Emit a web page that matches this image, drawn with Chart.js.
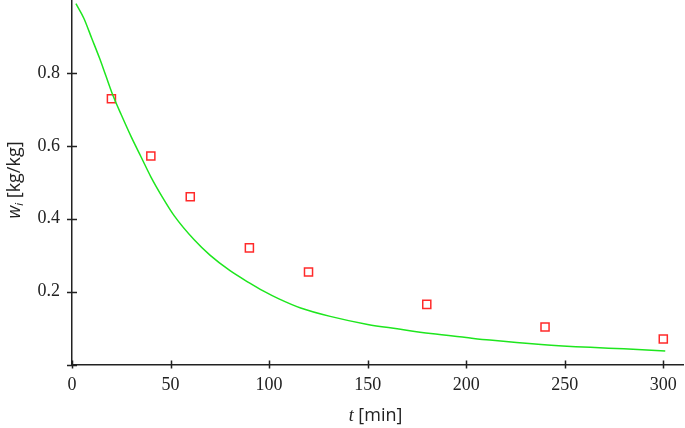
<!DOCTYPE html>
<html>
<head>
<meta charset="utf-8">
<script src="https://cdn.jsdelivr.net/npm/chart.js@4/dist/chart.umd.min.js"></script>
<style>
  html, body { margin: 0; padding: 0; background: #fff; }
  #wrap { width: 685px; height: 428px; position: relative; }
</style>
</head>
<body>
<div id="wrap"><canvas id="chart" width="685" height="428"></canvas></div>
<script>
// model curve
const curveT = [2, 6, 10, 14, 17, 21, 25, 30, 35, 40, 46, 52, 62, 70, 80, 90, 97, 105, 116, 131, 150, 165, 182, 200, 212, 238, 263, 280, 301];
const curveW = [0.99, 0.95, 0.895, 0.84, 0.795, 0.735, 0.685, 0.625, 0.57, 0.515, 0.458, 0.407, 0.342, 0.30, 0.258, 0.224, 0.202, 0.18, 0.155, 0.132, 0.110, 0.098, 0.085, 0.074, 0.067, 0.055, 0.047, 0.043, 0.037];

// measured points
const expT = [20, 40, 60, 90, 120, 180, 240, 300];
const expW = [0.729, 0.572, 0.460, 0.320, 0.254, 0.165, 0.103, 0.070];

const xTicks = [0, 50, 100, 150, 200, 250, 300];
const yTicks = [0.2, 0.4, 0.6, 0.8];
const yMarks = [0, 0.2, 0.4, 0.6, 0.8];

const AXIS = '#222';
const tickFont = { family: 'Liberation Serif', size: 18 };

function noPad(s) {
  s.paddingTop = 0; s.paddingBottom = 0; s.paddingLeft = 0; s.paddingRight = 0;
}

const axisDecor = {
  id: 'axisDecor',
  afterDraw(chart) {
    const ctx = chart.ctx;
    const xs = chart.scales.x, ys = chart.scales.y;
    const ax = xs.left, ay = ys.bottom;
    ctx.save();
    ctx.strokeStyle = AXIS;
    ctx.lineWidth = 1.5;
    ctx.beginPath();
    xTicks.forEach(v => {
      const px = Math.round(xs.getPixelForValue(v)) + 0.5;
      ctx.moveTo(px, ay - 4); ctx.lineTo(px, ay + 4);
    });
    yMarks.forEach(v => {
      const py = Math.round(ys.getPixelForValue(v)) + 0.5;
      ctx.moveTo(ax - 5, py); ctx.lineTo(ax + 5, py);
    });
    ctx.stroke();

    // x title: t [min]
    ctx.fillStyle = AXIS;
    ctx.textBaseline = 'alphabetic';
    ctx.font = 'italic 18px "Liberation Serif"';
    const tW = ctx.measureText('t').width;
    ctx.font = '18px "Open Sans"';
    const restW = ctx.measureText(' [min]').width;
    let x0 = (xs.left + xs.right) / 2 - (tW + restW) / 2 - 2;
    const by = 421;
    ctx.font = 'italic 18px "Liberation Serif"';
    ctx.fillText('t', x0, by);
    ctx.font = '18px "Open Sans"';
    ctx.fillText(' [min]', x0 + tW, by);

    // y title: w_i [kg/kg]
    ctx.translate(20, 180);
    ctx.rotate(-Math.PI / 2);
    ctx.font = 'italic 18px "Open Sans"';
    const wW = ctx.measureText('w').width;
    ctx.font = 'italic 11px "Open Sans"';
    const iW = ctx.measureText('i').width;
    ctx.font = '18px "Open Sans"';
    const kW = ctx.measureText(' [kg/kg]').width;
    let s = -(wW + iW + kW) / 2;
    ctx.font = 'italic 18px "Open Sans"';
    ctx.fillText('w', s, 0);
    ctx.font = 'italic 11px "Open Sans"';
    ctx.fillText('i', s + wW, 3);
    ctx.font = '18px "Open Sans"';
    ctx.fillText(' [kg/kg]', s + wW + iW, 0);
    ctx.restore();
  }
};

new Chart(document.getElementById('chart'), {
  type: 'scatter',
  data: {
    datasets: [
      {
        label: 'model',
        data: curveT.map((t, i) => ({ x: t, y: curveW[i] })),
        showLine: true,
        borderColor: '#1ee61e',
        borderWidth: 1.5,
        pointRadius: 0,
        cubicInterpolationMode: 'monotone',
        fill: false
      },
      {
        label: 'measured',
        data: expT.map((t, i) => ({ x: t, y: expW[i] })),
        showLine: false,
        pointStyle: 'rect',
        pointRadius: 5.7,
        pointBorderColor: '#ff2a2a',
        pointBackgroundColor: 'rgba(255,255,255,0)',
        pointBorderWidth: 1.5
      }
    ]
  },
  options: {
    responsive: false,
    animation: false,
    layout: { autoPadding: false, padding: { top: 0, right: 2, bottom: 0, left: 0 } },
    plugins: { legend: { display: false }, tooltip: { enabled: false } },
    scales: {
      x: {
        type: 'linear',
        min: 0, max: 310,
        afterFit: s => { s.height = 63.5; noPad(s); },
        afterBuildTicks: s => { s.ticks = xTicks.map(v => ({ value: v })); },
        grid: { display: false, drawTicks: false },
        border: { display: true, color: AXIS, width: 1.5 },
        ticks: { color: AXIS, font: tickFont, padding: 10, maxRotation: 0 }
      },
      y: {
        type: 'linear',
        min: 0, max: 1.0,
        afterFit: s => { s.width = 72; noPad(s); },
        afterBuildTicks: s => { s.ticks = yTicks.map(v => ({ value: v })); },
        grid: { display: false, drawTicks: false },
        border: { display: true, color: AXIS, width: 1.5 },
        ticks: { color: AXIS, font: tickFont, padding: 12, callback: v => v.toFixed(1) }
      }
    }
  },
  plugins: [axisDecor]
});
</script>
</body>
</html>
